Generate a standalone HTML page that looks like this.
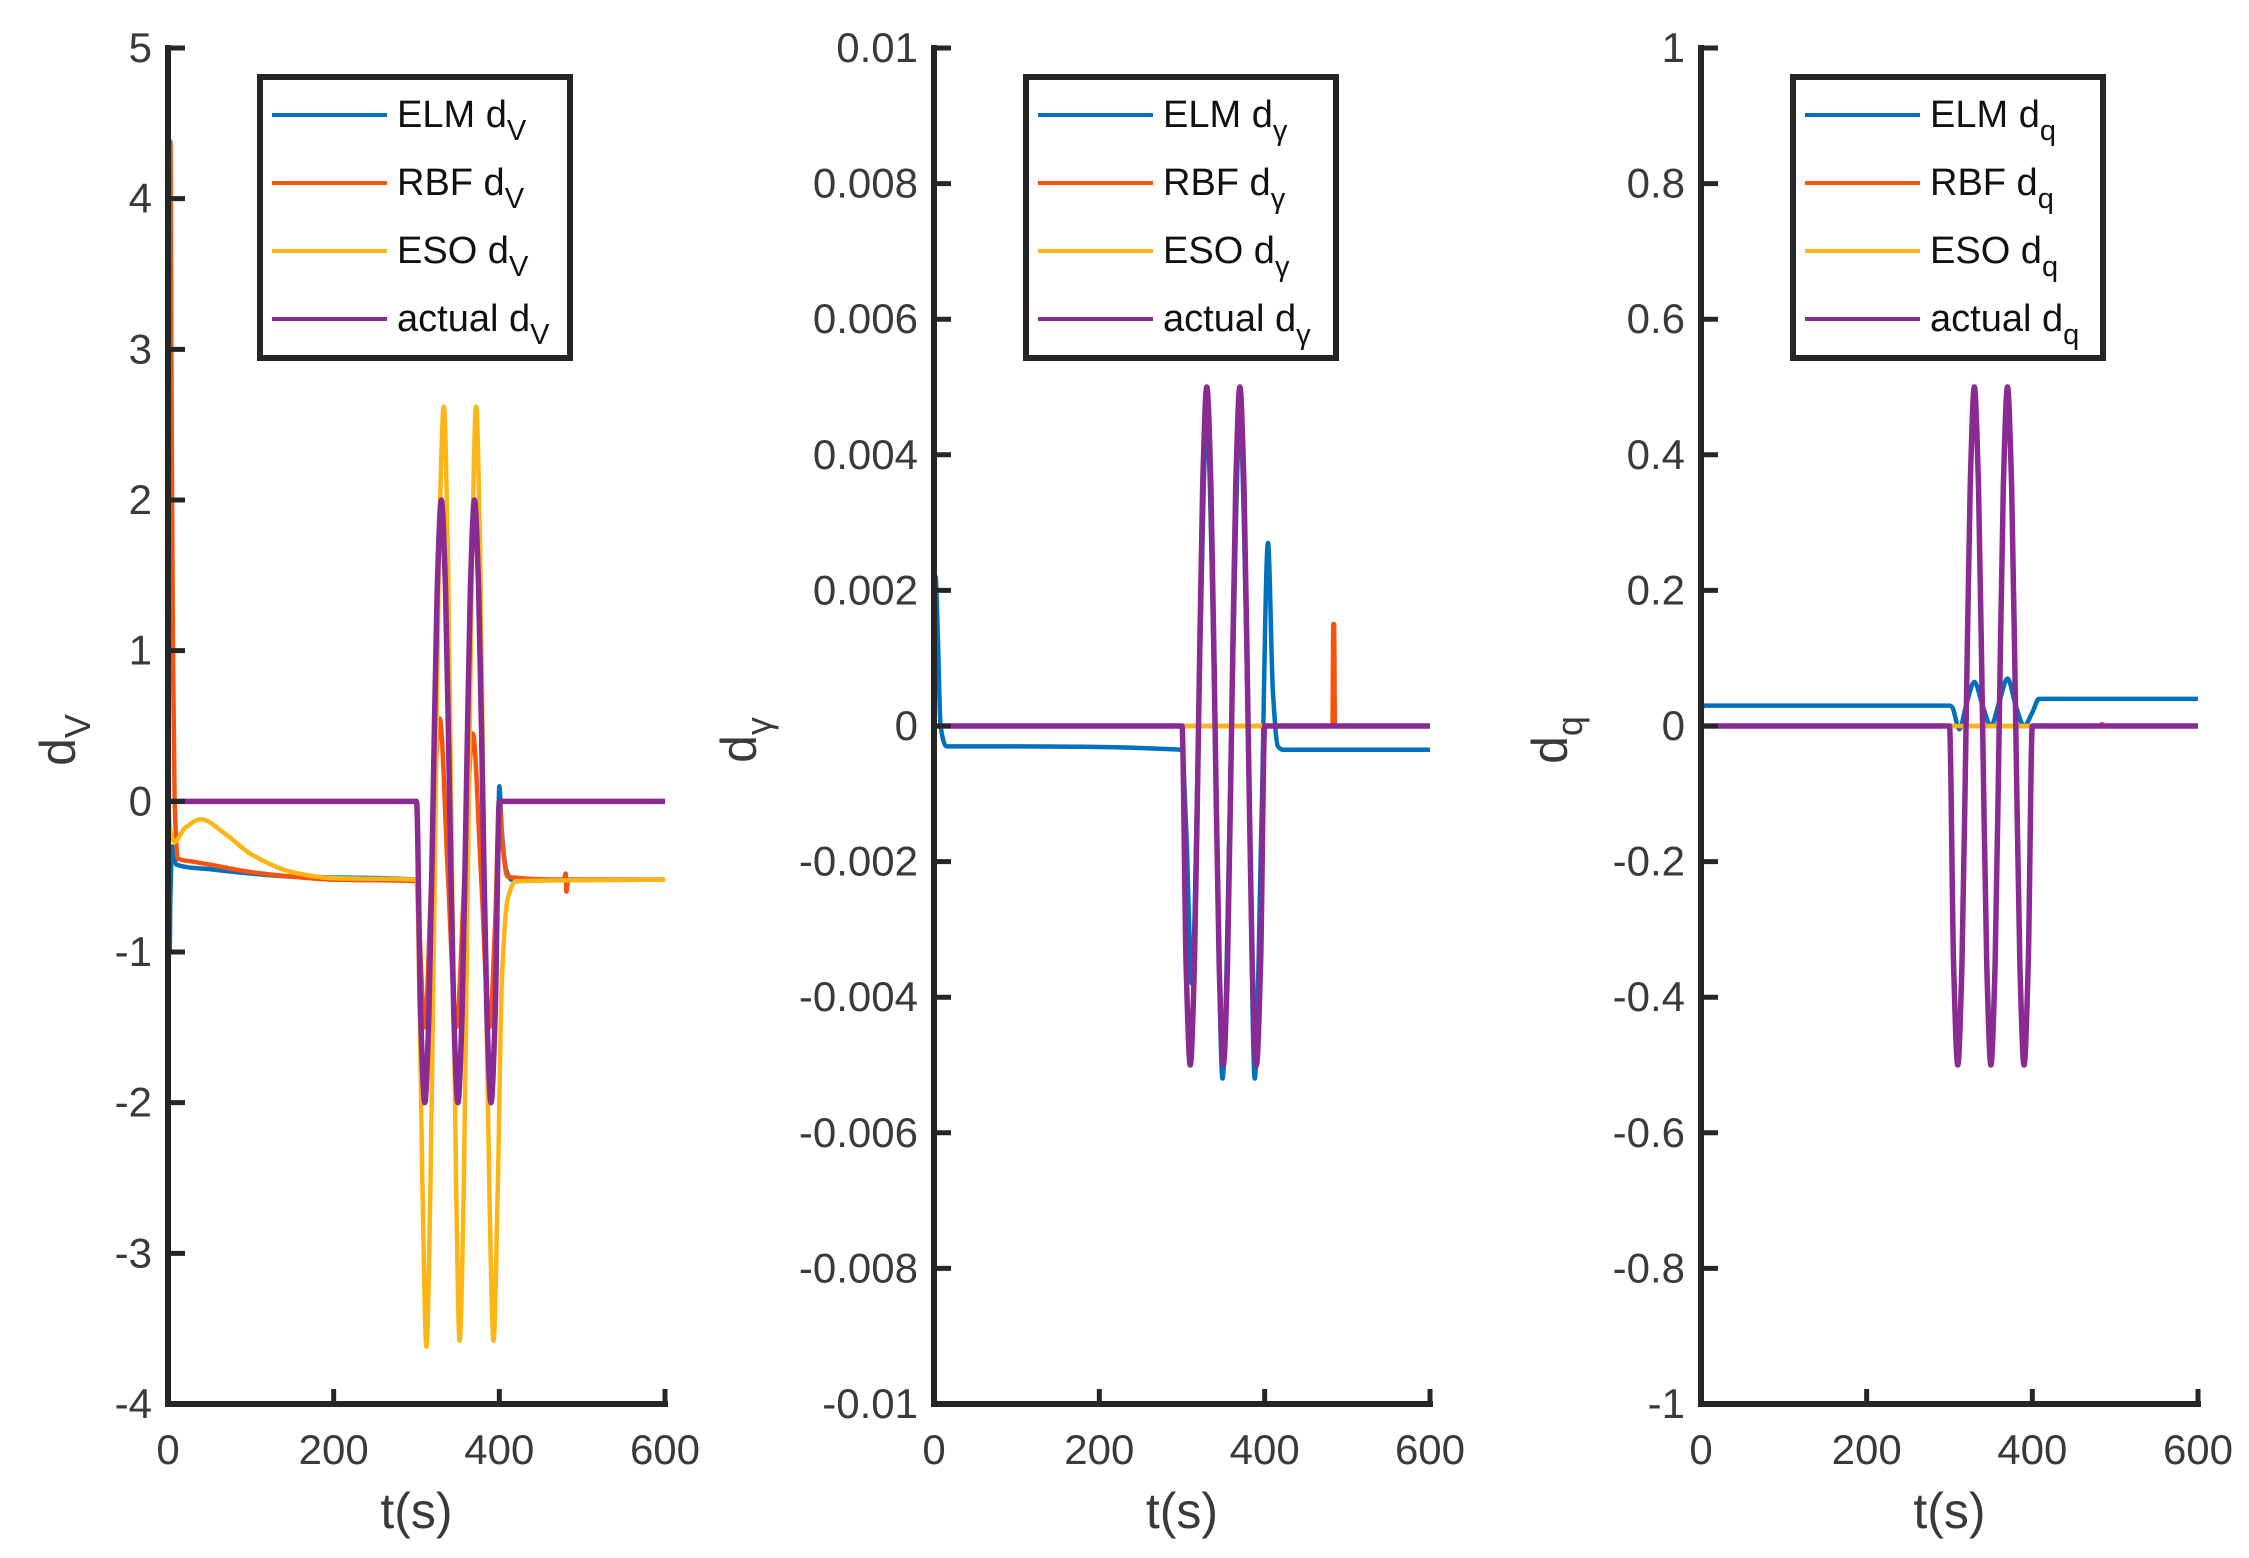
<!DOCTYPE html>
<html><head><meta charset="utf-8"><style>
html,body{margin:0;padding:0;background:#fff;}
svg{display:block;font-family:"Liberation Sans",Arial,sans-serif;}
</style></head><body>
<svg id="chart" width="2249" height="1558" viewBox="0 0 2249 1558"></svg>
<script>
// ---------- data ----------
const xTicks = [0, 200, 400, 600];
const yTicksV = [5,4,3,2,1,0,-1,-2,-3,-4];
const yTickLabelsV = ["5","4","3","2","1","0","-1","-2","-3","-4"];
const yTicksG = [0.01,0.008,0.006,0.004,0.002,0,-0.002,-0.004,-0.006,-0.008,-0.01];
const yTickLabelsG = ["0.01","0.008","0.006","0.004","0.002","0","-0.002","-0.004","-0.006","-0.008","-0.01"];
const yTicksQ = [1,0.8,0.6,0.4,0.2,0,-0.2,-0.4,-0.6,-0.8,-1];
const yTickLabelsQ = ["1","0.8","0.6","0.4","0.2","0","-0.2","-0.4","-0.6","-0.8","-1"];

const tActual = [0,299,300,305,310,315,320,325,330,335,340,345,350,355,360,365,370,375,380,385,390,395,400,401,600];
const vActual = [0,0,0,-1.41,-2,-1.41,0,1.41,2,1.41,0,-1.41,-2,-1.41,0,1.41,2,1.41,0,-1.41,-2,-1.41,0,0,0];
const gActual = [0,0,0,-0.00354,-0.005,-0.00354,0,0.00354,0.005,0.00354,0,-0.00354,-0.005,-0.00354,0,0.00354,0.005,0.00354,0,-0.00354,-0.005,-0.00354,0,0,0];
const qActual = [0,0,0,-0.354,-0.5,-0.354,0,0.354,0.5,0.354,0,-0.354,-0.5,-0.354,0,0.354,0.5,0.354,0,-0.354,-0.5,-0.354,0,0,0];

const tElmV = [0,2,3,5,10,50,150,300,302,305,310,315,320,325,330,335,340,345,350,355,360,365,370,375,380,385,390,395,398,400,403,408,415,600];
const vElmV = [0,-1,-0.6,-0.3,-0.42,-0.45,-0.5,-0.52,-0.6,-1.5,-1.95,-1.4,0,1.4,1.95,1.4,0,-1.4,-1.95,-1.4,0,1.4,1.95,1.4,0,-1.4,-1.95,-1.4,-0.5,0.1,-0.2,-0.45,-0.52,-0.52];
const tRbfV = [0,2,3,4,6,8,12,30,60,100,150,200,300,303,310,318,328,338,348,358,368,378,388,395,400,404,410,478,480,481,483,600];
const vRbfV = [0,3,4.38,3,1,0,-0.38,-0.4,-0.43,-0.47,-0.5,-0.52,-0.53,-0.8,-1.5,-0.5,0.55,-0.5,-1.5,-0.5,0.45,-0.5,-1.5,-0.8,0,-0.3,-0.5,-0.52,-0.48,-0.6,-0.52,-0.52];
const tEsoV = [0,3,8,20,40,70,100,150,200,300,302,307,312,317,322,327,333,338,343,348,352,357,362,367,372,377,382,388,393,398,403,410,420,600];
const vEsoV = [0,-0.2,-0.27,-0.18,-0.12,-0.22,-0.35,-0.47,-0.51,-0.52,-0.8,-2.5,-3.62,-2.5,-0.5,1.6,2.62,1.6,-0.5,-2.6,-3.58,-2.6,-0.5,1.6,2.62,1.6,-0.5,-2.6,-3.58,-2.6,-1.2,-0.65,-0.53,-0.52];

const tElmG = [0,2,4,8,15,60,300,305,312,320,330,340,349,360,370,380,388,396,404,410,416,422,600];
const vElmG = [0,0.0022,0.0016,0,-0.0003,-0.0003,-0.00035,-0.0015,-0.0038,0,0.0045,0,-0.0052,0,0.0045,0,-0.0052,-0.0015,0.0027,0.0005,-0.0003,-0.00035,-0.00035];
const tRbfG = [0,482,483,484,485,600];
const vRbfG = [0,0,0.0015,0.0015,0,0];
const tEsoG = [0,600];
const vEsoG = [0,0];

const tElmQ = [0,2,5,300,303,312,320,330,340,350,360,370,380,390,400,408,600];
const vElmQ = [0.02,0.028,0.03,0.03,0.028,-0.005,0.03,0.065,0.03,0,0.035,0.07,0.03,0,0.02,0.04,0.04];
const tRbfQ = [0,482,484,486,600];
const vRbfQ = [0,0,0.003,0,0];
const tEsoQ = [0,600];
const vEsoQ = [0,0];

const COLORS = {elm:"#0072BD", rbf:"#F5540F", eso:"#FDB515", act:"#8A2A93"};

// ---------- drawing ----------
const NS = "http://www.w3.org/2000/svg";
const svg = document.getElementById("chart");
function mk(tag, attrs, parent){
  const e = document.createElementNS(NS, tag);
  for (const k in attrs) e.setAttribute(k, attrs[k]);
  (parent||svg).appendChild(e);
  return e;
}
function monotonePath(xs, ys){
  const n = xs.length; if (n<2) return "";
  const d=[], m=[];
  for (let i=0;i<n-1;i++){ const dx=xs[i+1]-xs[i]; d.push(dx===0?0:(ys[i+1]-ys[i])/dx); }
  m[0]=d[0]; m[n-1]=d[n-2];
  for (let i=1;i<n-1;i++){
    if (d[i-1]*d[i]<=0) m[i]=0;
    else { const h0=xs[i]-xs[i-1], h1=xs[i+1]-xs[i];
      m[i]=3*(h0+h1)/((2*h1+h0)/d[i-1]+(h1+2*h0)/d[i]); }
  }
  let p = "M"+xs[0].toFixed(2)+","+ys[0].toFixed(2);
  for (let i=0;i<n-1;i++){
    const h=(xs[i+1]-xs[i])/3;
    p += " C"+(xs[i]+h).toFixed(2)+","+(ys[i]+m[i]*h).toFixed(2)+" "+(xs[i+1]-h).toFixed(2)+","+(ys[i+1]-m[i+1]*h).toFixed(2)+" "+xs[i+1].toFixed(2)+","+ys[i+1].toFixed(2);
  }
  return p;
}

const panels = [
  {key:"v", left:168, right:665, ymax:5, ymin:-4, yTicks:yTicksV, yLabels:yTickLabelsV, sub:"V", ylabelX:57,
   series:[["elm",tElmV,vElmV],["rbf",tRbfV,vRbfV],["eso",tEsoV,vEsoV],["act",tActual,vActual]]},
  {key:"gamma", left:934, right:1430, ymax:0.01, ymin:-0.01, yTicks:yTicksG, yLabels:yTickLabelsG, sub:"γ", ylabelX:738,
   series:[["elm",tElmG,vElmG],["rbf",tRbfG,vRbfG],["eso",tEsoG,vEsoG],["act",tActual,gActual]]},
  {key:"q", left:1701, right:2198, ymax:1, ymin:-1, yTicks:yTicksQ, yLabels:yTickLabelsQ, sub:"q", ylabelX:1549,
   series:[["elm",tElmQ,vElmQ],["rbf",tRbfQ,vRbfQ],["eso",tEsoQ,vEsoQ],["act",tActual,qActual]]}
];
const TOP=48, BOT=1404;
const names = {elm:"ELM", rbf:"RBF", eso:"ESO", act:"actual"};
const TXT = "#3a3a3a";

panels.forEach(P=>{
  const g = mk("g",{});
  
  
  const sx = t => P.left + (t-0)/(600-0)*(P.right-P.left);
  const sy = v => BOT - (v-P.ymin)/(P.ymax-P.ymin)*(BOT-TOP);

  P.series.forEach(([k,ts,vs])=>{
    const path = mk("path",{d:monotonePath(ts.map(sx), vs.map(sy)), fill:"none", stroke:COLORS[k],
      "stroke-width": k==="act"?5.5:4.5, "stroke-linejoin":"round"}, g);
    
    
  });

  const ax = mk("path",{d:`M${P.left},${TOP} V${BOT} H${P.right}`, fill:"none", stroke:"#262626", "stroke-width":6, "stroke-linecap":"square"}, g);
  
  

  P.yTicks.forEach((v,i)=>{
    const y = sy(v);
    mk("line",{x1:P.left, x2:P.left+17, y1:y, y2:y, stroke:"#262626","stroke-width":5}, g);
    const t = mk("text",{x:P.left-16, y:y+14, "text-anchor":"end", "font-size":42, fill:TXT}, g);
    t.textContent = P.yLabels[i];
    
    
  });
  xTicks.forEach(v=>{
    const x = sx(v);
    mk("line",{x1:x, x2:x, y1:BOT, y2:BOT-15, stroke:"#262626","stroke-width":5}, g);
    const t = mk("text",{x:x, y:1464, "text-anchor":"middle", "font-size":42, fill:TXT}, g);
    t.textContent = v;
    
    
  });

  const xl = mk("text",{x:(P.left+P.right)/2, y:1528, "text-anchor":"middle", "font-size":50, fill:TXT}, g);
  xl.textContent = "t(s)";
  
  
  const yl = mk("text",{transform:`translate(${P.ylabelX+18},740) rotate(-90)`, "text-anchor":"middle", "font-size":50, fill:TXT}, g);
  yl.innerHTML = `d<tspan font-size="36" dy="15">${P.sub}</tspan>`;
  
  

  const lx = P.left+92;
  const lg = mk("g",{}, g);
  
  
  mk("rect",{x:lx, y:77, width:310, height:281, fill:"#fff", stroke:"#262626", "stroke-width":6}, lg);
  ["elm","rbf","eso","act"].forEach((k,i)=>{
    const y = 115 + i*68;
    const e = mk("g",{}, lg);
    
    
    mk("line",{x1:lx+12, x2:lx+127, y1:y, y2:y, stroke:COLORS[k], "stroke-width":4}, e);
    const t = mk("text",{x:lx+137, y:y+12, "font-size":38, fill:"#111"}, e);
    t.innerHTML = `${names[k]} d<tspan font-size="29" dy="13">${P.sub}</tspan>`;
  });
});
</script>
</body></html>
